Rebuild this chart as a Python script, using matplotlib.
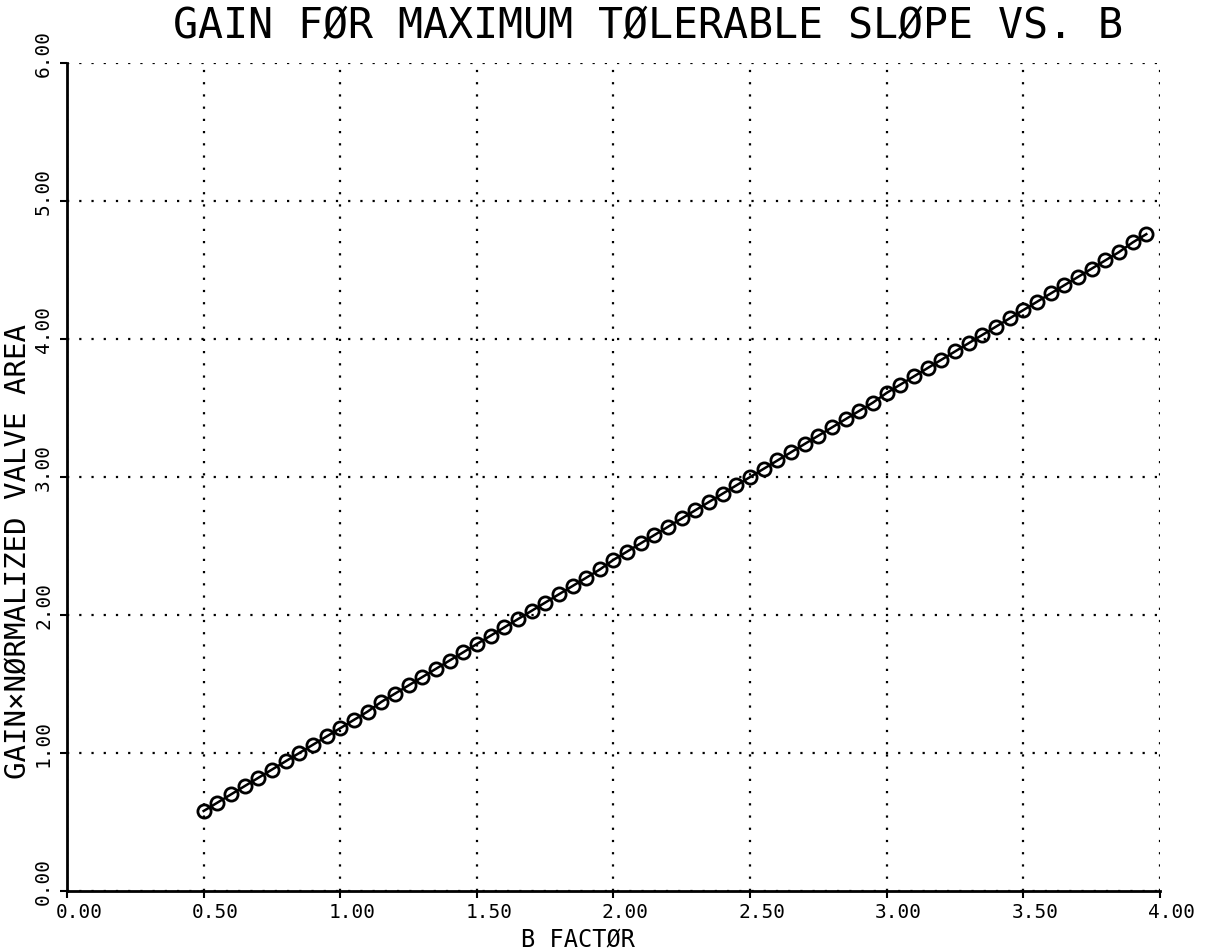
import matplotlib
matplotlib.use("Agg")
import matplotlib.pyplot as plt
import matplotlib.transforms as mtransforms

# B factor values
b_factor = [0.50, 0.55, 0.60, 0.65, 0.70, 0.75, 0.80, 0.85, 0.90, 0.95,
            1.00, 1.05, 1.10, 1.15, 1.20, 1.25, 1.30, 1.35, 1.40, 1.45,
            1.50, 1.55, 1.60, 1.65, 1.70, 1.75, 1.80, 1.85, 1.90, 1.95,
            2.00, 2.05, 2.10, 2.15, 2.20, 2.25, 2.30, 2.35, 2.40, 2.45,
            2.50, 2.55, 2.60, 2.65, 2.70, 2.75, 2.80, 2.85, 2.90, 2.95,
            3.00, 3.05, 3.10, 3.15, 3.20, 3.25, 3.30, 3.35, 3.40, 3.45,
            3.50, 3.55, 3.60, 3.65, 3.70, 3.75, 3.80, 3.85, 3.90, 3.95]

# gain * normalized valve area
gain_area = [0.58, 0.64, 0.70, 0.76, 0.82, 0.88, 0.94, 1.00, 1.06, 1.12,
             1.18, 1.24, 1.30, 1.37, 1.43, 1.49, 1.55, 1.61, 1.67, 1.73,
             1.79, 1.85, 1.91, 1.97, 2.03, 2.09, 2.15, 2.21, 2.27, 2.33,
             2.40, 2.46, 2.52, 2.58, 2.64, 2.70, 2.76, 2.82, 2.88, 2.94,
             3.00, 3.06, 3.12, 3.18, 3.24, 3.30, 3.36, 3.42, 3.48, 3.54,
             3.61, 3.67, 3.73, 3.79, 3.85, 3.91, 3.97, 4.03, 4.09, 4.15,
             4.21, 4.27, 4.33, 4.39, 4.45, 4.51, 4.57, 4.63, 4.70, 4.76]

x_ticks = [0.0, 0.5, 1.0, 1.5, 2.0, 2.5, 3.0, 3.5, 4.0]
x_labels = ["0.00", "0.50", "1.00", "1.50", "2.00", "2.50", "3.00", "3.50", "4.00"]
y_ticks = [0.0, 1.0, 2.0, 3.0, 4.0, 5.0, 6.0]
y_labels = ["0.00", "1.00", "2.00", "3.00", "4.00", "5.00", "6.00"]

plt.rcParams['font.family'] = ['DejaVu Sans Mono', 'DejaVu Sans']

fig = plt.figure(figsize=(12.14, 9.53), dpi=100)
ax = fig.add_axes([0.0552, 0.064, 0.9003, 0.8688])

ax.plot(b_factor, gain_area, color="black", linewidth=1.8,
        marker="o", markersize=9.5, markerfacecolor="none",
        markeredgecolor="black", markeredgewidth=2.0)

ax.set_xlim(0, 4)
ax.set_ylim(0, 6)
ax.set_xticks(x_ticks)
ax.set_xticklabels(x_labels, fontsize=14)
ax.set_yticks(y_ticks)
ax.set_yticklabels(y_labels, fontsize=14, rotation=90, va="center")

# dotted grid, including the top and right borders
ax.grid(True, color="black", linestyle=(0, (1, 4.5)), linewidth=1.6)
ax.set_axisbelow(True)
ax.spines["top"].set_visible(False)
ax.spines["right"].set_visible(False)
ax.spines["left"].set_linewidth(2)
ax.spines["bottom"].set_linewidth(2)
ax.tick_params(direction="out", length=5, width=1.5, pad=3)
ax.tick_params(axis="y", pad=5)

# plotter style: the decimal point of each label sits near the tick
for lab in ax.get_xticklabels():
    lab.set_transform(lab.get_transform() +
                      mtransforms.ScaledTranslation(12 / 100, 0, fig.dpi_scale_trans))
for lab in ax.get_yticklabels():
    lab.set_transform(lab.get_transform() +
                      mtransforms.ScaledTranslation(0, 11 / 100, fig.dpi_scale_trans))

fig.text(0.534, 0.973, "GAIN FØR MAXIMUM TØLERABLE SLØPE VS. B",
         fontsize=30, ha="center", va="center")
fig.text(0.476, 0.014, "B FACTØR", fontsize=17, ha="center", va="center")
fig.text(0.015, 0.421, "GAIN×NØRMALIZED VALVE AREA", fontsize=21,
         rotation=90, ha="center", va="center")

fig.savefig("out.png", dpi=100)
